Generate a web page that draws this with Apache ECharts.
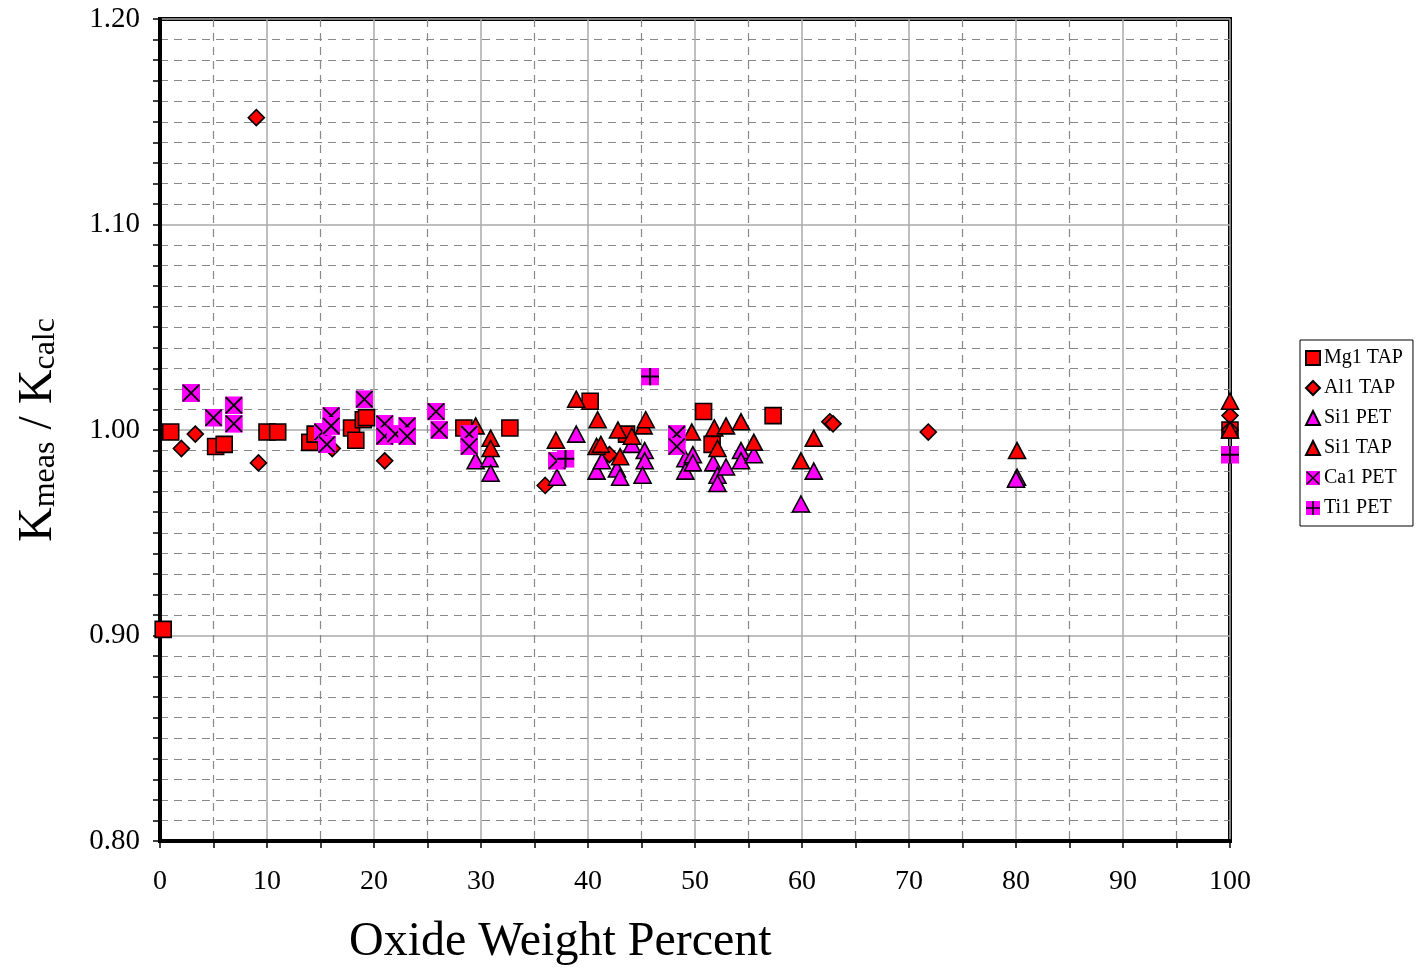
<!DOCTYPE html>
<html><head><meta charset="utf-8">
<script src="https://cdn.jsdelivr.net/npm/echarts@6/dist/echarts.min.js"></script>
<style>html,body{margin:0;padding:0;background:#fff}#c{width:1416px;height:971px}</style>
</head><body><div id="c"></div>
<script>
// ---- data (x = oxide wt%, y = Kmeas/Kcalc) ----
const seriesNames = ['Mg1 TAP', 'Al1 TAP', 'Si1 PET', 'Si1 TAP', 'Ca1 PET', 'Ti1 PET'];
const mg1TAP = [[0.3,0.903],[1.0,0.999],[5.2,0.992],[6.0,0.993],[10.0,0.999],[11.0,0.999],[14.0,0.994],[14.5,0.998],
  [17.9,1.001],[18.3,0.995],[19.0,1.005],[19.3,1.006],[28.4,1.001],[32.7,1.001],[40.2,1.014],[43.6,0.998],
  [50.8,1.009],[51.6,0.993],[57.3,1.007],[100,1.000]];
const al1TAP = [[2.0,0.991],[3.3,0.998],[9.0,1.152],[9.2,0.984],[16.1,0.991],[21.0,0.985],[36.0,0.973],[42.0,0.988],
  [62.6,1.004],[62.9,1.003],[71.8,0.999],[100,1.007],[100,1.000]];
const si1PET = [[29.5,0.985],[30.8,0.986],[30.9,0.979],[37.1,0.977],[38.9,0.998],[40.8,0.980],[41.3,0.985],[42.7,0.981],
  [43.0,0.977],[44.1,0.993],[45.3,0.990],[45.3,0.985],[45.1,0.978],[49.1,0.986],[49.1,0.980],[49.8,0.988],[49.8,0.984],
  [51.7,0.984],[52.1,0.978],[52.1,0.974],[52.9,0.982],[54.3,0.990],[54.3,0.985],[55.5,0.988],[59.9,0.964],[61.1,0.980],
  [80.1,0.977],[80.0,0.976]];
const si1TAP = [[29.5,1.002],[30.9,0.996],[30.9,0.991],[37.0,0.995],[38.9,1.015],[40.9,1.005],[40.8,0.992],[41.2,0.993],
  [42.8,1.000],[43.0,0.987],[44.1,0.997],[45.2,1.002],[45.4,1.005],[49.7,0.999],[51.8,1.001],[52.1,0.991],[52.9,1.002],
  [54.3,1.004],[55.5,0.994],[59.9,0.985],[61.1,0.996],[80.1,0.990],[100,1.014],[100,1.000]];
const ca1PET = [[2.9,1.018],[5.0,1.006],[6.9,1.012],[6.9,1.003],[15.2,0.999],[15.6,0.993],[16.0,1.007],[16.0,1.002],
  [19.1,1.015],[21.0,1.003],[21.0,0.997],[22.0,0.998],[23.1,1.002],[23.1,0.997],[25.8,1.009],[26.1,1.000],
  [28.9,0.998],[28.9,0.992],[37.1,0.985],[48.3,0.998],[48.3,0.992]];
const ti1PET = [[37.9,0.986],[45.8,1.026],[100,0.988]];
const xMin = 0, xMax = 100, xStep = 10;
const yMin = 0.8, yMax = 1.2, yStep = 0.1;

// ---- marker images ----
const svgUri = s => 'image://data:image/svg+xml;charset=utf-8,' + encodeURIComponent(s);
const xMark = svgUri("<svg xmlns='http://www.w3.org/2000/svg' width='32' height='32' viewBox='0 0 16 16'><rect width='16' height='16' fill='#FF00FF'/><path d='M0.8 0.8L15.2 15.2M15.2 0.8L0.8 15.2' stroke='#000' stroke-width='1.6'/></svg>");
const plusMark = svgUri("<svg xmlns='http://www.w3.org/2000/svg' width='32' height='32' viewBox='0 0 16 16'><rect width='16' height='16' fill='#FF00FF'/><path d='M8 0V16M0 8H16' stroke='#000' stroke-width='1.8'/></svg>");

const FONT = 'Liberation Serif';
const border = {borderColor: '#000', borderWidth: 1.6};
function sc(name, data, symbol, size, color, extra) {
  return Object.assign({
    name, type: 'scatter', data, symbol, symbolSize: size,
    itemStyle: Object.assign({color, opacity: 1}, border),
    emphasis: {disabled: true}, clip: false, z: 5
  }, extra || {});
}

const chart = echarts.init(document.getElementById('c'), null, {renderer: 'canvas'});
chart.setOption({
  animation: false,
  backgroundColor: '#fff',
  grid: {left: 160, right: 186, top: 19, bottom: 130, containLabel: false, outerBoundsMode: 'none',
    show: true, borderColor: '#000', borderWidth: 4, backgroundColor: 'transparent'},
  legend: {
    orient: 'vertical', left: 1300, top: 340, data: seriesNames,
    backgroundColor: '#fff', borderColor: '#000', borderWidth: 1,
    padding: [8, 10, 8, 5], itemGap: 10, itemWidth: 14, itemHeight: 14,
    textStyle: {fontFamily: FONT, fontSize: 20, color: '#000', padding: [0, 0, 0, -1]},
    selectedMode: false
  },
  xAxis: {
    type: 'value', min: xMin, max: xMax, interval: xStep,
    axisLine: {show: true, onZero: false, lineStyle: {color: '#000', width: 4}},
    axisTick: {show: true, length: 7, lineStyle: {color: '#000', width: 1.5}},
    minorTick: {show: true, splitNumber: 2, length: 7, lineStyle: {color: '#000', width: 1.5}},
    axisLabel: {fontFamily: FONT, fontSize: 28, color: '#000', margin: 27},
    splitLine: {show: true, lineStyle: {color: '#aaa', width: 1.5}},
    minorSplitLine: {show: true, lineStyle: {color: '#888', width: 1.2, type: [8, 6]}}
  },
  yAxis: {
    type: 'value', min: yMin, max: yMax, interval: yStep,
    axisLine: {show: true, onZero: false, lineStyle: {color: '#000', width: 4}},
    axisTick: {show: true, length: 7, lineStyle: {color: '#000', width: 1.5}},
    minorTick: {show: true, splitNumber: 10, length: 7, lineStyle: {color: '#000', width: 1.5}},
    axisLabel: {fontFamily: FONT, fontSize: 29, color: '#000', margin: 20, formatter: v => v.toFixed(2)},
    splitLine: {show: true, lineStyle: {color: '#aaa', width: 1.5}},
    minorSplitLine: {show: true, lineStyle: {color: '#888', width: 1.2, type: [8, 6]}},
    name: '{k|K}{s|meas}{k| / K}{s|calc}', nameLocation: 'middle', nameRotate: 90, nameGap: 98,
    nameTextStyle: {
      fontFamily: FONT, color: '#000',
      rich: {
        k: {fontFamily: FONT, fontSize: 48, color: '#000', lineHeight: 48, verticalAlign: 'top'},
        s: {fontFamily: FONT, fontSize: 32, color: '#000', lineHeight: 32, padding: [28, 0, 0, 0], verticalAlign: 'bottom'}
      }
    }
  },
  graphic: [{
    type: 'text', left: 349, top: 918,
    style: {text: 'Oxide Weight Percent', font: '48px "Liberation Serif"', fill: '#000'}
  }],
  series: [
    sc(seriesNames[0], mg1TAP, 'rect', 16, '#FF0000'),
    sc(seriesNames[1], al1TAP, 'diamond', 16, '#FF0000'),
    sc(seriesNames[2], si1PET, 'triangle', [17, 16], '#FF00FF'),
    sc(seriesNames[3], si1TAP, 'triangle', [17, 16], '#FF0000'),
    sc(seriesNames[4], ca1PET, xMark, 18, '#FF00FF', {itemStyle: {color: '#FF00FF', opacity: 1}}),
    sc(seriesNames[5], ti1PET, plusMark, 18, '#FF00FF', {itemStyle: {color: '#FF00FF', opacity: 1}})
  ]
});
</script>
</body></html>
